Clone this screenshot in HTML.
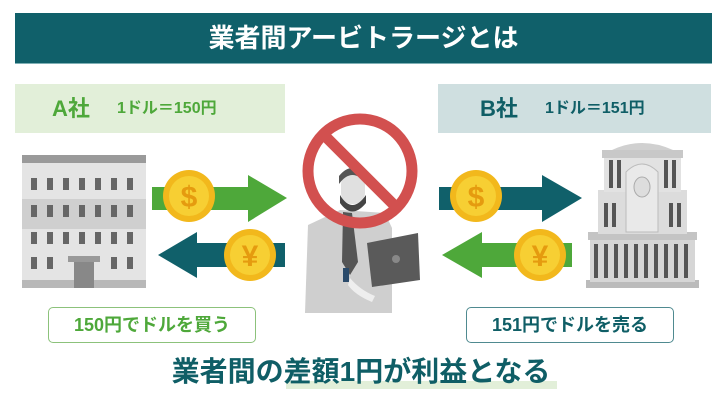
<!DOCTYPE html>
<html><head><meta charset="utf-8"><style>
body{margin:0;width:722px;height:404px;background:#fff;position:relative;overflow:hidden;font-family:"Liberation Sans","Noto Sans CJK JP",sans-serif;font-weight:bold}
.a{position:absolute}
</style></head><body>
<div class="a" style="left:15px;top:13px;width:697px;height:50px;background:#10606a;border-bottom:1px solid #7fb0b5;color:#fff;font-size:26px;text-align:center;line-height:50px">業者間アービトラージとは</div>
<div class="a" style="left:15px;top:84px;width:270px;height:49px;background:#e2efd9;color:#4ea83a;line-height:49px"><span class="a" style="left:37px;font-size:22px">A社</span><span class="a" style="left:102px;font-size:16px">1ドル＝150円</span></div>
<div class="a" style="left:438px;top:84px;width:273px;height:49px;background:#cfdfe0;color:#0f5e66;line-height:49px"><span class="a" style="left:42px;font-size:22px">B社</span><span class="a" style="left:107px;font-size:16px">1ドル＝151円</span></div>
<svg class="a" style="left:0;top:0" width="722" height="404">
<rect x="22" y="155" width="124" height="133" fill="#e4e4e4"/>
<rect x="22" y="155" width="124" height="8" fill="#9a9a9a"/>
<rect x="22" y="199" width="124" height="30" fill="#cfcfcf"/>
<rect x="22" y="280" width="124" height="8" fill="#b8b8b8"/>
<g fill="#666">
<rect x="31" y="178" width="6" height="12"/><rect x="47" y="178" width="6" height="12"/><rect x="63" y="178" width="6" height="12"/><rect x="79" y="178" width="6" height="12"/><rect x="95" y="178" width="6" height="12"/><rect x="111" y="178" width="6" height="12"/><rect x="127" y="178" width="6" height="12"/>
<rect x="31" y="205" width="6" height="12"/><rect x="47" y="205" width="6" height="12"/><rect x="63" y="205" width="6" height="12"/><rect x="79" y="205" width="6" height="12"/><rect x="95" y="205" width="6" height="12"/><rect x="111" y="205" width="6" height="12"/><rect x="127" y="205" width="6" height="12"/>
<rect x="31" y="232" width="6" height="12"/><rect x="47" y="232" width="6" height="12"/><rect x="63" y="232" width="6" height="12"/><rect x="79" y="232" width="6" height="12"/><rect x="95" y="232" width="6" height="12"/><rect x="111" y="232" width="6" height="12"/><rect x="127" y="232" width="6" height="12"/>
<rect x="31" y="257" width="6" height="12"/><rect x="47" y="257" width="6" height="12"/><rect x="111" y="257" width="6" height="12"/><rect x="127" y="257" width="6" height="12"/>
</g>
<rect x="68" y="256" width="32" height="6" fill="#999"/><rect x="74" y="262" width="20" height="26" fill="#888"/>
<polygon points="152,187 248,187 248,175 287,198 248,222 248,210 152,210" fill="#4ea83a"/>
<polygon points="285,243 197,243 197,232 158,255 197,278 197,267 285,267" fill="#10606a"/>
<polygon points="439,187 542,187 542,175 582,198 542,222 542,210 439,210" fill="#10606a"/>
<polygon points="572,243 482,243 482,232 442,255 482,278 482,267 572,267" fill="#4ea83a"/>
<g font-family="Liberation Sans" font-weight="bold" font-size="30" text-anchor="middle">
<circle cx="189" cy="196" r="26" fill="#f2b81c"/><circle cx="189" cy="196" r="20" fill="#f7cf33"/><text x="189" y="207" fill="#e59b0f">$</text>
<circle cx="250" cy="255" r="26" fill="#f2b81c"/><circle cx="250" cy="255" r="20" fill="#f7cf33"/><text x="250" y="266" fill="#e59b0f">¥</text>
<circle cx="476" cy="196" r="26" fill="#f2b81c"/><circle cx="476" cy="196" r="20" fill="#f7cf33"/><text x="476" y="207" fill="#e59b0f">$</text>
<circle cx="540" cy="255" r="26" fill="#f2b81c"/><circle cx="540" cy="255" r="20" fill="#f7cf33"/><text x="540" y="266" fill="#e59b0f">¥</text>
</g>
<path d="M305 313 L308 225 L340 210 L385 213 L392 228 L392 313 Z" fill="#cfcfcf"/>
<path d="M343 212 L352 213 L358 262 L350 275 L342 262 Z" fill="#555"/>
<rect x="341" y="174" width="24" height="30" rx="11" fill="#e0e0e0"/>
<path d="M339 184 Q352 166 367 184 L366 176 Q352 160 339 176 Z" fill="#555"/>
<path d="M340 195 Q352 215 366 195 L366 203 Q352 220 340 203 Z" fill="#444"/>
<polygon points="367,243 418,233 420,280 372,287" fill="#5a5a5a"/>
<circle cx="396" cy="259" r="4" fill="#888"/>
<rect x="343" y="268" width="6" height="14" fill="#2a4a6a"/>
<path d="M350 278 Q360 290 375 296 L372 302 Q355 295 348 285Z" fill="#eee"/>
<circle cx="360" cy="171" r="52" fill="none" stroke="#d2504f" stroke-width="11"/>
<line x1="324" y1="135" x2="396" y2="207" stroke="#d2504f" stroke-width="11"/>
<rect x="586" y="280" width="113" height="8" fill="#bbb"/>
<rect x="590" y="236" width="105" height="46" fill="#d6d6d6"/>
<rect x="588" y="232" width="109" height="8" fill="#c4c4c4"/>
<rect x="598" y="190" width="89" height="44" fill="#dcdcdc"/>
<rect x="604" y="158" width="77" height="34" fill="#e2e2e2"/>
<rect x="602" y="150" width="81" height="8" fill="#c8c8c8"/>
<path d="M612 150 Q642 136 673 150Z" fill="#d0d0d0"/>
<g fill="#555">
<rect x="609" y="160" width="4" height="28"/><rect x="617" y="160" width="4" height="28"/><rect x="664" y="160" width="4" height="28"/><rect x="672" y="160" width="4" height="28"/>
<rect x="604" y="203" width="4" height="24"/><rect x="612" y="203" width="4" height="24"/><rect x="669" y="203" width="4" height="24"/><rect x="677" y="203" width="4" height="24"/>
<rect x="594" y="244" width="4" height="34"/><rect x="604" y="244" width="4" height="34"/><rect x="614" y="244" width="4" height="34"/><rect x="624" y="244" width="4" height="34"/><rect x="634" y="244" width="4" height="34"/><rect x="644" y="244" width="4" height="34"/><rect x="654" y="244" width="4" height="34"/><rect x="664" y="244" width="4" height="34"/><rect x="674" y="244" width="4" height="34"/><rect x="684" y="244" width="4" height="34"/>
</g>
<path d="M626 232 L626 172 Q642 156 658 172 L658 232Z" fill="#e9e9e9" stroke="#bbb"/>
<ellipse cx="642" cy="187" rx="8" ry="10" fill="#ddd" stroke="#aaa"/>
<rect x="286" y="381" width="271" height="8" fill="#e2efd9"/>
</svg>
<div class="a" style="left:48px;top:307px;width:206px;height:34px;border:1px solid #8cc27b;border-radius:5px;color:#4ea83a;font-size:18px;text-align:center;line-height:34px">150円でドルを買う</div>
<div class="a" style="left:466px;top:307px;width:206px;height:34px;border:1px solid #4f8a90;border-radius:5px;color:#0f5e66;font-size:18px;text-align:center;line-height:34px">151円でドルを売る</div>
<div class="a" style="left:0;top:355px;width:722px;text-align:center;color:#0f5e66;font-size:28px;line-height:34px">業者間の差額1円が利益となる</div>
</body></html>
